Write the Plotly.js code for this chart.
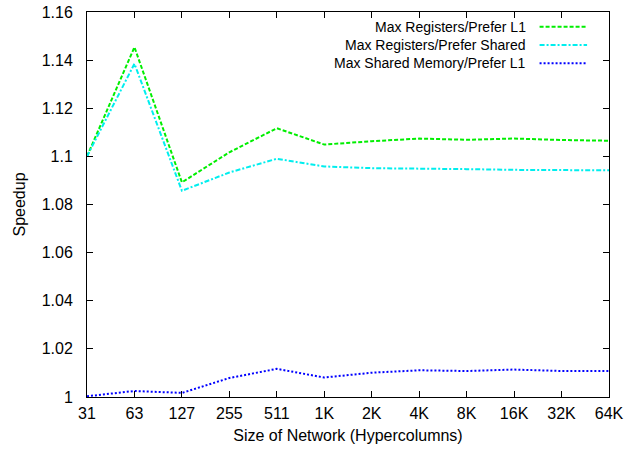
<!DOCTYPE html>
<html>
<head>
<meta charset="utf-8">
<script src="https://cdn.plot.ly/plotly-3.0.1.min.js"></script>
<style>
  html, body { margin: 0; padding: 0; background: #fff; }
  #chart { width: 639px; height: 449px; }
</style>
</head>
<body>
<div id="chart"></div>
<script>
// Network sizes (hypercolumns) along the x axis
const sizes = ['31', '63', '127', '255', '511', '1K', '2K', '4K', '8K', '16K', '32K', '64K'];

// Speedup of each kernel configuration
const maxRegPreferL1 = [1.1000, 1.1454, 1.0892, 1.1017, 1.1117, 1.1049, 1.1063, 1.1074, 1.1069, 1.1074, 1.1068, 1.1065];
const maxRegPreferShared = [1.1000, 1.1385, 1.0857, 1.0933, 1.0990, 1.0958, 1.0951, 1.0950, 1.0947, 1.0944, 1.0944, 1.0942];
const maxSharedPreferL1 = [1.0003, 1.0025, 1.0017, 1.0079, 1.0117, 1.0081, 1.0101, 1.0111, 1.0108, 1.0114, 1.0108, 1.0108];

const seriesNames = ['Max Registers/Prefer L1', 'Max Registers/Prefer Shared', 'Max Shared Memory/Prefer L1'];
const seriesColors = ['#00ee00', '#00eeee', '#0000ff'];
const seriesDash = ['4px,2px', '5px,2px,2px,2px', '2px,2px'];
const seriesData = [maxRegPreferL1, maxRegPreferShared, maxSharedPreferL1];

const yTicks = [1, 1.02, 1.04, 1.06, 1.08, 1.1, 1.12, 1.14, 1.16];
const yTickText = ['1', '1.02', '1.04', '1.06', '1.08', '1.1', '1.12', '1.14', '1.16'];

const traces = seriesData.map((vals, i) => ({
  x: sizes,
  y: vals,
  type: 'scatter',
  mode: 'lines',
  name: seriesNames[i],
  showlegend: false,
  line: { color: seriesColors[i], width: 2, dash: seriesDash[i] }
}));

// Key in the upper right: right-aligned label followed by a line sample
const keyRowsY = [0.962, 0.914, 0.867];
const annotations = seriesNames.map((name, i) => ({
  xref: 'paper', yref: 'paper',
  x: 0.845, y: keyRowsY[i],
  xanchor: 'right', yanchor: 'middle',
  text: name, showarrow: false,
  font: { family: 'Liberation Sans, Arial, sans-serif', size: 14, color: '#000' }
}));
const shapes = seriesNames.map((name, i) => ({
  type: 'line', xref: 'paper', yref: 'paper',
  x0: 0.867, x1: 0.958, y0: keyRowsY[i], y1: keyRowsY[i],
  line: { color: seriesColors[i], width: 2, dash: seriesDash[i] }
}));

const layout = {
  width: 639,
  height: 449,
  margin: { l: 87, r: 30, t: 12, b: 52 },
  paper_bgcolor: '#fff',
  plot_bgcolor: '#fff',
  font: { family: 'Liberation Sans, Arial, sans-serif', size: 16, color: '#000' },
  showlegend: false,
  xaxis: {
    type: 'category',
    range: [0, 11],
    showgrid: false,
    zeroline: false,
    showline: true,
    linecolor: '#000',
    linewidth: 1,
    mirror: 'ticks',
    ticks: 'inside',
    ticklen: 6,
    tickcolor: '#000',
    tickfont: { size: 16 },
    ticklabelstandoff: 2,
    title: { text: 'Size of Network (Hypercolumns)', font: { size: 16 }, standoff: 8 }
  },
  yaxis: {
    range: [1, 1.16],
    tickvals: yTicks,
    ticktext: yTickText,
    showgrid: false,
    zeroline: false,
    showline: true,
    linecolor: '#000',
    linewidth: 1,
    mirror: 'ticks',
    ticks: 'inside',
    ticklen: 6,
    tickcolor: '#000',
    tickfont: { size: 16 },
    ticklabelstandoff: 10,
    title: { text: 'Speedup', font: { size: 16 }, standoff: 12 }
  },
  annotations: annotations,
  shapes: shapes
};

Plotly.newPlot('chart', traces, layout, { displayModeBar: false, staticPlot: true });
</script>
</body>
</html>
